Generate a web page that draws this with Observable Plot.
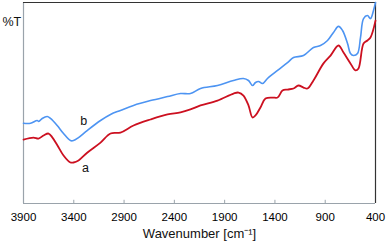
<!DOCTYPE html>
<html><head><meta charset="utf-8">
<script src="https://cdn.jsdelivr.net/npm/d3@7"></script>
<script src="https://cdn.jsdelivr.net/npm/@observablehq/plot@0.6"></script>
<style>body{margin:0;background:#fff;font-family:"Liberation Sans",Arial,sans-serif}</style>
</head><body><div id="chart"></div>
<script>
const blueWn = [3900,3830,3764,3748,3714,3664,3632,3565,3502,3433,3403,3353,3267,3134,3035,2936,2806,2637,2468,2339,2240,2140,1971,1812,1713,1663,1623,1593,1563,1524,1474,1374,1275,1215,1116,1017,947,877,818,768,728,678,649,619,579,549,519,480,450,420,400];
const blueT = [39.9,39.9,41.3,40.8,42.3,43.3,42.3,38.8,34.8,31.3,31.3,32.8,36.3,41.3,44.3,46.3,48.8,51.2,53.2,54.7,54.7,57.2,58.7,61.2,62.2,61.2,58.7,60.2,60.7,59.7,62.2,66.2,70.1,72.6,73.6,77.6,78.6,81.1,85.1,88.1,86.1,79.6,74.6,73.6,74.6,82.6,92.0,93.5,92.0,96.0,100];
const redWn = [3900,3801,3751,3701,3651,3612,3562,3502,3433,3403,3353,3264,3134,3035,2936,2806,2637,2468,2339,2240,2140,1971,1812,1762,1713,1663,1623,1593,1544,1494,1424,1374,1325,1275,1215,1166,1116,1076,1017,917,847,768,718,649,599,569,519,480,450,400];
const redT = [31.8,32.8,32.3,33.8,34.8,32.8,28.9,23.9,20.4,20.4,21.4,25.4,30.3,34.8,35.3,38.8,41.8,44.3,45.3,46.8,48.8,51.2,54.7,55.2,53.7,48.8,42.8,43.8,47.8,52.2,52.7,52.7,56.2,56.7,57.2,58.7,57.7,57.2,61.2,69.7,73.6,78.6,75.1,69.7,66.2,67.2,79.6,81.1,82.6,91.0];
const tickLabels = [3900,3400,2900,2400,1900,1400,900,400];
const innerTicks = [3400,2900,2400,1900,1400,900];
const seriesLabels = [{wn:3300, t:40.8, text:"b"},{wn:3283, t:17.9, text:"a"}];

const blue = blueWn.map((w,i)=>({wn:w, t:blueT[i]}));
const red = redWn.map((w,i)=>({wn:w, t:redT[i]}));

const plot = Plot.plot({
  width:386, height:246,
  marginLeft:23, marginRight:11, marginTop:2, marginBottom:43,
  style:{fontFamily:"Liberation Sans, Arial, sans-serif", background:"#fff", overflow:"visible"},
  x:{domain:[3900,400]},
  y:{domain:[0,100]},
  marks:[
    Plot.axisX({ticks:tickLabels, tickSize:0, tickPadding:9, fontSize:11.5, color:"#000", tickFormat:d=>String(d), label:null}),
    Plot.axisY({ticks:[], label:null}),
    Plot.ruleX([3900], {stroke:"#9aa3ab", strokeWidth:1.2}),
    Plot.ruleY([0], {stroke:"#9aa3ab", strokeWidth:1.2}),
    Plot.ruleY([100], {stroke:"#333", strokeWidth:1.2}),
    Plot.ruleX([400], {stroke:"#333", strokeWidth:1.2}),
    Plot.ruleX(innerTicks, {y1:0, y2:1.6, stroke:"#9aa3ab"}),
    Plot.line(blue, {x:"wn", y:"t", stroke:"#4d94f2", strokeWidth:1.6, curve:"catmull-rom"}),
    Plot.line(red, {x:"wn", y:"t", stroke:"#cc1020", strokeWidth:1.8, curve:"catmull-rom"}),
    Plot.text(seriesLabels, {x:"wn", y:"t", text:"text", fontSize:12.5, fill:"#111"}),
    Plot.text(["%T"], {frameAnchor:"top-left", textAnchor:"start", dx:-21, dy:15, fontSize:12.5, fill:"#111"}),
    Plot.text(["Wavenumber [cm⁻¹]"], {frameAnchor:"bottom", dy:34, fontSize:13, fill:"#111"})
  ]
});
document.getElementById("chart").append(plot);
</script></body></html>
